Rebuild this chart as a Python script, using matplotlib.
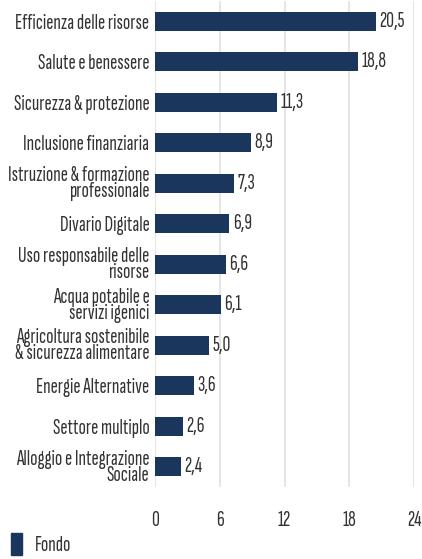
import matplotlib.pyplot as plt
import matplotlib.patches as mpatches

plt.rcParams['font.family'] = ['Sofia Sans Extra Condensed', 'Roboto Condensed', 'DejaVu Sans']

categories = ['Efficienza delle risorse', 'Salute e benessere', 'Sicurezza & protezione',
              'Inclusione finanziaria', 'Istruzione & formazione\nprofessionale',
              'Divario Digitale', 'Uso responsabile delle\nrisorse',
              'Acqua potabile e\nservizi igenici', 'Agricoltura sostenibile\n& sicurezza alimentare',
              'Energie Alternative', 'Settore multiplo', 'Alloggio e Integrazione\nSociale']
values = [20.5, 18.8, 11.3, 8.9, 7.3, 6.9, 6.6, 6.1, 5.0, 3.6, 2.6, 2.4]
xticks = [0, 6, 12, 18, 24]
bar_color = '#1b365d'
text_color = '#333333'
fs = 15.5

fig = plt.figure(figsize=(4.22, 5.59), dpi=100)
ax = fig.add_axes([155 / 422, 1 - 487 / 559, 259 / 422, 486 / 559])

y = list(range(len(categories)))
ax.barh(y, values, height=0.47, color=bar_color, zorder=3)
for yi, v in zip(y, values):
    ax.text(v + 0.3, yi, f'{v:.1f}'.replace('.', ','), va='center', ha='left',
            fontsize=fs, color=text_color)

ax.set_ylim(len(categories) - 0.5, -0.5)
ax.set_xlim(0, 24)
ax.set_xticks(xticks)
ax.set_yticks(y)
ax.set_yticklabels(categories, fontsize=fs, color=text_color, linespacing=0.8)
ax.tick_params(axis='x', labelsize=fs, labelcolor=text_color, length=0, pad=17)
ax.tick_params(axis='y', length=0, pad=4)
ax.grid(axis='x', color='#e6e6e6', linewidth=1.5, zorder=0)
for s in ax.spines.values():
    s.set_visible(False)

handle = mpatches.Patch(color=bar_color, label='Fondo')
fig.legend(handles=[handle], loc='lower left', bbox_to_anchor=(-0.02, -0.028),
           frameon=False, fontsize=fs, handlelength=0.5, handleheight=1.2,
           handletextpad=0.6, labelcolor=text_color)

fig.savefig('out.png', dpi=100)
